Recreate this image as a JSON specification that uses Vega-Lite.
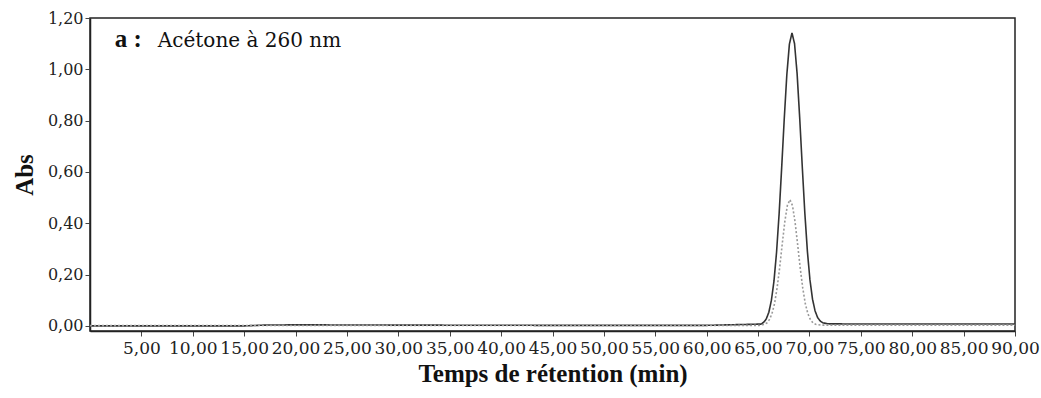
{
  "$schema": "https://vega.github.io/schema/vega-lite/v6.json",
  "width": 925,
  "height": 313,
  "autosize": {"type": "none"},
  "padding": {"left": 90, "top": 18, "right": 26, "bottom": 67},
  "background": "white",
  "config": {
    "view": {"stroke": "#222", "strokeWidth": 1.5},
    "text": {"font": "DejaVu Serif"}
  },
  "datasets": {
    "traces": [
      {"t": 0, "abs": 0.000, "s": "solid"},
      {"t": 15, "abs": 0.000, "s": "solid"},
      {"t": 17, "abs": 0.003, "s": "solid"},
      {"t": 20, "abs": 0.004, "s": "solid"},
      {"t": 30, "abs": 0.003, "s": "solid"},
      {"t": 45, "abs": 0.002, "s": "solid"},
      {"t": 60, "abs": 0.002, "s": "solid"},
      {"t": 65.3, "abs": 0.007, "s": "solid"},
      {"t": 65.55, "abs": 0.014, "s": "solid"},
      {"t": 65.8, "abs": 0.027, "s": "solid"},
      {"t": 66.05, "abs": 0.053, "s": "solid"},
      {"t": 66.3, "abs": 0.100, "s": "solid"},
      {"t": 66.55, "abs": 0.175, "s": "solid"},
      {"t": 66.8, "abs": 0.287, "s": "solid"},
      {"t": 67.05, "abs": 0.437, "s": "solid"},
      {"t": 67.3, "abs": 0.618, "s": "solid"},
      {"t": 67.55, "abs": 0.808, "s": "solid"},
      {"t": 67.8, "abs": 0.979, "s": "solid"},
      {"t": 68.05, "abs": 1.098, "s": "solid"},
      {"t": 68.3, "abs": 1.142, "s": "solid"},
      {"t": 68.55, "abs": 1.100, "s": "solid"},
      {"t": 68.8, "abs": 0.983, "s": "solid"},
      {"t": 69.05, "abs": 0.812, "s": "solid"},
      {"t": 69.3, "abs": 0.622, "s": "solid"},
      {"t": 69.55, "abs": 0.441, "s": "solid"},
      {"t": 69.8, "abs": 0.291, "s": "solid"},
      {"t": 70.05, "abs": 0.179, "s": "solid"},
      {"t": 70.3, "abs": 0.104, "s": "solid"},
      {"t": 70.55, "abs": 0.058, "s": "solid"},
      {"t": 70.8, "abs": 0.032, "s": "solid"},
      {"t": 71.05, "abs": 0.019, "s": "solid"},
      {"t": 71.3, "abs": 0.012, "s": "solid"},
      {"t": 71.8, "abs": 0.008, "s": "solid"},
      {"t": 75, "abs": 0.007, "s": "solid"},
      {"t": 90, "abs": 0.007, "s": "solid"},
      {"t": 0, "abs": 0.001, "s": "dotted"},
      {"t": 30, "abs": 0.002, "s": "dotted"},
      {"t": 60, "abs": 0.002, "s": "dotted"},
      {"t": 65.1, "abs": 0.002, "s": "dotted"},
      {"t": 65.6, "abs": 0.006, "s": "dotted"},
      {"t": 65.85, "abs": 0.011, "s": "dotted"},
      {"t": 66.1, "abs": 0.024, "s": "dotted"},
      {"t": 66.35, "abs": 0.047, "s": "dotted"},
      {"t": 66.6, "abs": 0.086, "s": "dotted"},
      {"t": 66.85, "abs": 0.147, "s": "dotted"},
      {"t": 67.1, "abs": 0.226, "s": "dotted"},
      {"t": 67.35, "abs": 0.318, "s": "dotted"},
      {"t": 67.6, "abs": 0.405, "s": "dotted"},
      {"t": 67.85, "abs": 0.469, "s": "dotted"},
      {"t": 68.1, "abs": 0.492, "s": "dotted"},
      {"t": 68.35, "abs": 0.469, "s": "dotted"},
      {"t": 68.6, "abs": 0.405, "s": "dotted"},
      {"t": 68.85, "abs": 0.318, "s": "dotted"},
      {"t": 69.1, "abs": 0.226, "s": "dotted"},
      {"t": 69.35, "abs": 0.147, "s": "dotted"},
      {"t": 69.6, "abs": 0.086, "s": "dotted"},
      {"t": 69.85, "abs": 0.047, "s": "dotted"},
      {"t": 70.1, "abs": 0.024, "s": "dotted"},
      {"t": 70.35, "abs": 0.011, "s": "dotted"},
      {"t": 70.6, "abs": 0.006, "s": "dotted"},
      {"t": 71.1, "abs": 0.003, "s": "dotted"},
      {"t": 90, "abs": 0.003, "s": "dotted"}
    ],
    "boldlab": [
      {"t": 2.4, "abs": 1.087, "txt": "a :"}
    ],
    "normlab": [
      {"t": 6.6, "abs": 1.087, "txt": "Acétone à 260 nm"}
    ]
  },
  "layer": [
    {
      "data": {"name": "traces"},
      "mark": {"type": "line", "strokeWidth": 1.6, "interpolate": "linear"},
      "encoding": {
        "x": {
          "field": "t", "type": "quantitative",
          "scale": {"domain": [0, 90], "nice": false, "zero": false},
          "axis": {
            "title": "Temps de rétention (min)",
            "titleFont": "Liberation Serif", "titleFontSize": 25, "titleFontWeight": "bold", "titleColor": "#111",
            "titlePadding": 5,
            "values": [5,10,15,20,25,30,35,40,45,50,55,60,65,70,75,80,85,90],
            "labelExpr": "replace(format(datum.value, '.2f'), '.', ',')",
            "labelFont": "DejaVu Serif", "labelFontSize": 17, "labelColor": "#222",
            "labelPadding": 4, "labelOverlap": false, "labelFlush": false,
            "tickSize": 5, "tickColor": "#444", "domainColor": "#222", "domainWidth": 1.5,
            "grid": false
          }
        },
        "y": {
          "field": "abs", "type": "quantitative",
          "scale": {"domain": [-0.02, 1.2], "nice": false, "zero": false},
          "axis": {
            "title": "Abs",
            "titleFont": "Liberation Serif", "titleFontSize": 25, "titleFontWeight": "bold", "titleColor": "#111",
            "titlePadding": 10,
            "values": [0, 0.2, 0.4, 0.6, 0.8, 1.0, 1.2],
            "labelExpr": "replace(format(datum.value, '.2f'), '.', ',')",
            "labelFont": "DejaVu Serif", "labelFontSize": 16, "labelColor": "#222",
            "labelPadding": 2, "labelFlush": false,
            "tickSize": 5, "tickColor": "#444", "domainColor": "#222", "domainWidth": 1.5,
            "grid": false
          }
        },
        "detail": {"field": "s"},
        "color": {
          "field": "s", "type": "nominal",
          "scale": {"domain": ["solid", "dotted"], "range": ["#333333", "#9a9a9a"]},
          "legend": null
        },
        "strokeDash": {
          "field": "s", "type": "nominal",
          "scale": {"domain": ["solid", "dotted"], "range": [[1, 0], [2, 2]]},
          "legend": null
        }
      }
    },
    {
      "data": {"name": "boldlab"},
      "mark": {"type": "text", "align": "left", "baseline": "alphabetic", "font": "Liberation Serif", "fontSize": 25, "fontWeight": "bold", "color": "#111"},
      "encoding": {
        "x": {"field": "t", "type": "quantitative"},
        "y": {"field": "abs", "type": "quantitative"},
        "text": {"field": "txt"}
      }
    },
    {
      "data": {"name": "normlab"},
      "mark": {"type": "text", "align": "left", "baseline": "alphabetic", "font": "DejaVu Serif", "fontSize": 20, "fontWeight": "normal", "color": "#111"},
      "encoding": {
        "x": {"field": "t", "type": "quantitative"},
        "y": {"field": "abs", "type": "quantitative"},
        "text": {"field": "txt"}
      }
    }
  ]
}
